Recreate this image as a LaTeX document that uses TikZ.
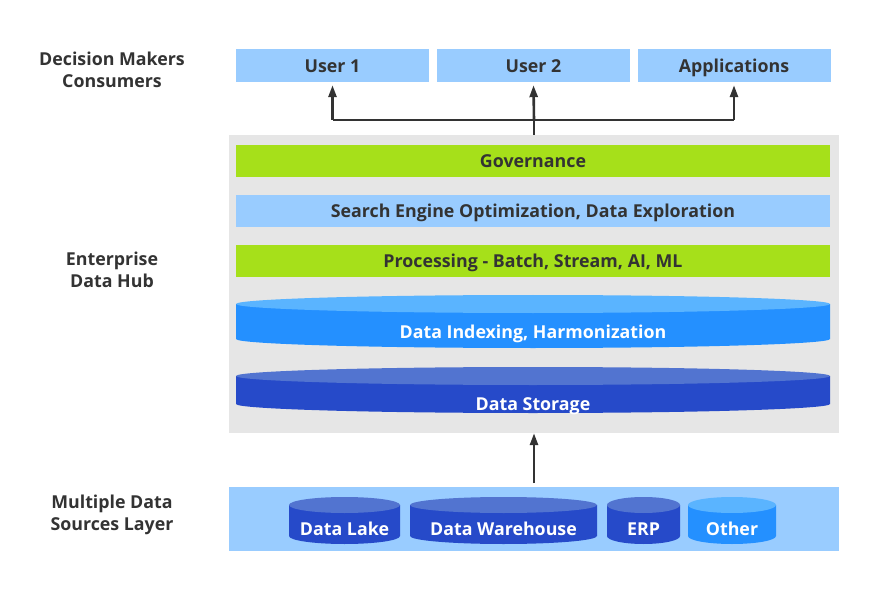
\documentclass[tikz,border=0pt]{standalone}
\usepackage{fontspec}
\setmainfont{Open Sans}
\usetikzlibrary{arrows.meta}
\begin{document}
\begin{tikzpicture}[x=1pt,y=-1pt,
  fnt/.style={font=\bfseries\fontsize{17.8}{22}\selectfont},
  lbl/.style={fnt, text=txt, align=center, inner sep=0},
  wlbl/.style={fnt, text=white, inner sep=0, text height=15.5pt, text depth=1.5pt},
  bar/.style={fnt, text=txt, inner sep=0, minimum height=32pt, minimum width=594pt, text height=15.5pt, text depth=1.5pt},
  usr/.style={fill=lblue, fnt, text=txt, inner sep=0, minimum height=33pt, minimum width=193pt, text height=15.5pt, text depth=1.5pt},
  conn/.style={draw=txt, line width=2.6pt},
  arr/.style={conn, -{Triangle[length=12pt,width=8pt]}}
]
\definecolor{txt}{HTML}{333333}
\definecolor{lblue}{HTML}{99CCFF}
\definecolor{grn}{HTML}{A6E01A}
\definecolor{hub}{HTML}{E6E6E6}
\definecolor{bbody}{HTML}{2490FF}
\definecolor{btop}{HTML}{5AB4FF}
\definecolor{dbody}{HTML}{264AC9}
\definecolor{dtop}{HTML}{5274D0}
\useasboundingbox (0,0) rectangle (892,596);
\fill[white] (0,0) rectangle (892,596);
% cylinder macro: x1,x2,ytop center,ybot center,ry,top,body
\newcommand{\mycyl}[7]{%
  \fill[#7] (#1,#3) -- (#1,#4) arc[start angle=180,end angle=0,x radius={(#2-#1)/2},y radius=#5] -- (#2,#3) -- cycle;
  \fill[#6] ({(#1+#2)/2},#3) ellipse[x radius={(#2-#1)/2},y radius=#5];}
% left labels
\node[lbl] (l1) at (112,70) {Decision Makers\\Consumers};
\node[lbl] (l2) at (112,270) {Enterprise\\Data Hub};
\node[lbl] (l3) at (112,515) {Multiple Data\\Sources Layer};
% users
\node[usr] (u1) at (332.5,65.5) {User 1};
\node[usr] (u2) at (533.5,65.5) {User 2};
\node[usr] (u3) at (734,65.5) {Applications};
% hub
\node[fill=hub, minimum width=610pt, minimum height=298pt, inner sep=0] (hubbox) at (534,284) {};
\node[bar, fill=grn] (gov) at (533,161) {Governance};
\node[bar, fill=lblue] (seo) at (533,211) {Search Engine Optimization, Data Exploration};
\node[bar, fill=grn] (proc) at (533,261) {Processing - Batch, Stream, AI, ML};
\mycyl{236}{830}{304}{339}{9}{btop}{bbody}
\node[wlbl] (idx) at (533,331) {Data Indexing, Harmonization};
\mycyl{236}{830}{376}{404}{9}{dtop}{dbody}
\node[wlbl] (sto) at (533,403) {Data Storage};
% sources band
\node[fill=lblue, minimum width=610pt, minimum height=64pt, inner sep=0] (src) at (534,519) {};
\mycyl{289}{400}{505}{536}{8}{dtop}{dbody}
\node[wlbl] (dl) at (344.5,528) {Data Lake};
\mycyl{410}{597}{505}{536}{8}{dtop}{dbody}
\node[wlbl] (dw) at (503.5,528) {Data Warehouse};
\mycyl{607}{680}{505}{536}{8}{dtop}{dbody}
\node[wlbl] (erp) at (643.5,528) {ERP};
\mycyl{688}{776}{505}{536}{8}{btop}{bbody}
\node[wlbl] (oth) at (732,528) {Other};
% connectors
\coordinate (j) at (534,120);
\coordinate (s0) at (534,483);
\draw[arr] (s0) -- (hubbox.south);
\draw[conn] (hubbox.north) -- (j);
\draw[arr] (j) -- ([yshift=-3pt]u2.south);
\draw[conn] (u1.south |- j) -- (u3.south |- j);
\draw[arr] (u1.south |- j) -- ([yshift=-3pt]u1.south);
\draw[arr] (u3.south |- j) -- ([yshift=-3pt]u3.south);
\end{tikzpicture}
\end{document}
